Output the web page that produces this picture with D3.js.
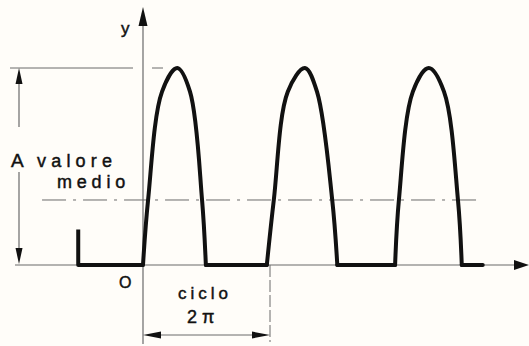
<!DOCTYPE html>
<html><head><meta charset="utf-8">
<script src="https://cdn.jsdelivr.net/npm/d3@7"></script>
<style>
html,body{margin:0;padding:0;background:#fffdf9;}
svg{display:block;}
text{font-family:"Liberation Sans",Arial,sans-serif;fill:#111;stroke:#111;stroke-width:0.45px;}
</style></head><body>
<script>
// x in multiples of π, y in units of the amplitude A
const leadX = [-1.02, -1.02, 0];
const leadY = [0.18, 0, 0];
const pulse1X = [0, 0.08, 0.30, 0.54, 0.74, 0.93, 0.99];
const pulse1Y = [0, 0.33, 0.88, 1, 0.88, 0.33, 0];
const flat1X = [0.99, 1.95];
const pulse2X = [1.95, 2.06, 2.28, 2.55, 2.74, 2.98, 3.06];
const pulse2Y = [0, 0.33, 0.88, 1, 0.88, 0.33, 0];
const flat2X = [3.06, 3.97];
const pulse3X = [3.97, 4.03, 4.25, 4.50, 4.74, 4.96, 5.02];
const pulse3Y = [0, 0.33, 0.88, 1, 0.88, 0.33, 0];
const flat3X = [5.02, 5.35];
const meanValue = 0.33;           // valore medio ≈ A/π
const meanRange = [-1.59, 5.35];
const cycleRange = [0, 2];        // ciclo 2π
const labels = {y: "y", origin: "O", amp: "A", mean1: "valore", mean2: "medio", cycle1: "ciclo", cycle2: "2 π"};

const W = 529, H = 346;
const svg = d3.select("body").append("svg").attr("width", W).attr("height", H);
const x = d3.scaleLinear().domain([0, 2]).range([143, 270]);
const y = d3.scaleLinear().domain([0, 1]).range([265, 68]);

const gray = "#6a6a6a";
function arrow(tx, ty, dir, len, half) {
  let pts;
  if (dir === "up") pts = [[tx, ty], [tx - half, ty + len], [tx + half, ty + len]];
  if (dir === "down") pts = [[tx, ty], [tx - half, ty - len], [tx + half, ty - len]];
  if (dir === "left") pts = [[tx, ty], [tx + len, ty - half], [tx + len, ty + half]];
  if (dir === "right") pts = [[tx, ty], [tx - len, ty - half], [tx - len, ty + half]];
  svg.append("path").attr("d", "M" + pts.map(p => p.join(",")).join("L") + "Z").attr("fill", "#111");
}
function line(x1, y1, x2, y2, w, c, dash) {
  const l = svg.append("line").attr("x1", x1).attr("y1", y1).attr("x2", x2).attr("y2", y2)
    .attr("stroke", c || gray).attr("stroke-width", w || 1);
  if (dash) l.attr("stroke-dasharray", dash);
  return l;
}

// axes
line(15, y(0), 516, y(0), 1.2, gray);
arrow(529, y(0), "right", 15, 5);
line(x(0), 22, x(0), 344, 1.2, gray);
arrow(x(0), 7, "up", 19, 4.5);

// amplitude reference line
line(10, y(1), 133, y(1), 1, gray);
line(152, y(1), 163, y(1), 1, gray);
// amplitude arrow
line(19, y(1) + 12, 19, 127, 1.2, gray);
line(19, 172, 19, y(0) - 14, 1.2, gray);
arrow(19, y(1), "up", 16, 3.5);
arrow(19, y(0) - 1, "down", 16, 3.5);

// mean line (dash-dot)
line(x(meanRange[0]), y(meanValue), x(meanRange[1]), y(meanValue), 1, gray, "24,7,3,7");

// cycle dimension
line(x(cycleRange[1]), y(0), x(cycleRange[1]), 342, 1, gray, "12,3");
line(x(cycleRange[0]) + 16, 335, x(cycleRange[1]) - 16, 335, 1, gray);
arrow(x(cycleRange[0]), 335, "left", 18, 3.5);
arrow(x(cycleRange[1]), 335, "right", 18, 3.5);

// waveform
const lin = d3.line().x(d => x(d[0])).y(d => y(d[1]));
const smooth = d3.line().x(d => x(d[0])).y(d => y(d[1])).curve(d3.curveCatmullRom.alpha(0.5));
const wave = svg.append("g").attr("fill", "none").attr("stroke", "#111").attr("stroke-width", 4)
  .attr("stroke-linejoin", "round").attr("stroke-linecap", "round");
wave.append("path").attr("d", lin(leadX.map((v, i) => [v, leadY[i]]))).attr("stroke-linecap", "butt");
[[pulse1X, pulse1Y], [pulse2X, pulse2Y], [pulse3X, pulse3Y]].forEach(([px, py]) => {
  wave.append("path").attr("d", smooth(px.map((v, i) => [v, py[i]])));
});
[flat1X, flat2X, flat3X].forEach(fx => {
  wave.append("path").attr("d", lin(fx.map(v => [v, 0])));
});

// labels
svg.append("text").attr("x", 121).attr("y", 34).attr("font-size", 17).text(labels.y);
svg.append("text").attr("x", 119).attr("y", 288).attr("font-size", 16).text(labels.origin);
svg.append("text").attr("x", 11).attr("y", 167).attr("font-size", 19).text(labels.amp);
svg.append("text").attr("x", 37).attr("y", 167).attr("font-size", 18).attr("letter-spacing", 5.2).text(labels.mean1);
svg.append("text").attr("x", 57).attr("y", 188).attr("font-size", 18).attr("letter-spacing", 4.8).text(labels.mean2);
svg.append("text").attr("x", 178).attr("y", 299).attr("font-size", 17).attr("letter-spacing", 4).text(labels.cycle1);
svg.append("text").attr("x", 187).attr("y", 323).attr("font-size", 18).text(labels.cycle2);
</script>
</body></html>
